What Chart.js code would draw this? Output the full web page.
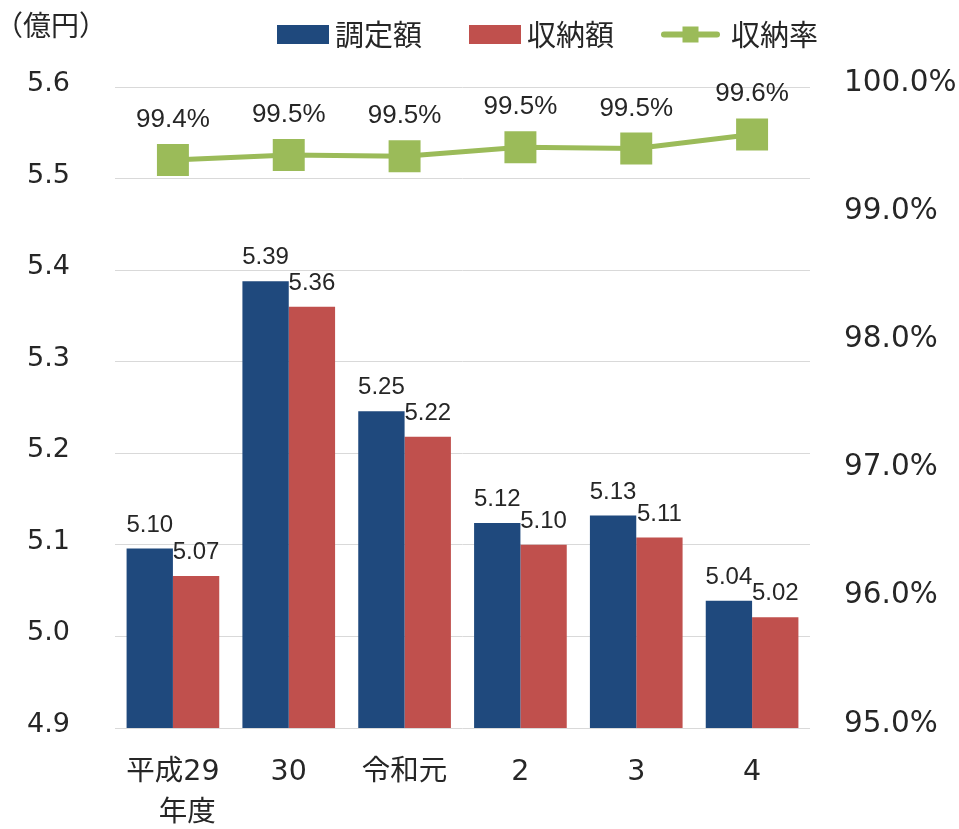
<!DOCTYPE html>
<html lang="ja">
<head>
<meta charset="utf-8">
<title>調定額・収納額・収納率の推移</title>
<script src="https://cdn.jsdelivr.net/npm/chart.js@4.4.1/dist/chart.umd.min.js"></script>
<style>
  html, body { margin: 0; padding: 0; background: #fff; }
</style>
</head>
<body>
<canvas id="chart" width="959" height="829"></canvas>
<script>
// fiscal years (平成29年度 – 令和4年度)
const years = [['平成29', '　年度'], '30', '令和元', '2', '3', '4'];
// 調定額 / 収納額 in 億円
const assessed = [5.096, 5.388, 5.246, 5.124, 5.132, 5.039];
const collected = [5.066, 5.360, 5.218, 5.100, 5.108, 5.021];
// 収納率 in %
const rate = [99.43, 99.47, 99.46, 99.53, 99.52, 99.63];

const BLUE = '#1F497D';
const RED = '#C0504D';
const GREEN = '#9BBB59';
const TEXT = '#262626';
const GRID = '#D9D9D9';
const NUM_FONT = '"DejaVu Sans", "Noto Sans CJK JP", sans-serif';
const CJK_FONT = '"Noto Sans CJK JP", sans-serif';
const LABEL_FONT = '"Liberation Sans", Arial, sans-serif';

// value labels above bars and line points
const valueLabels = {
  id: 'valueLabels',
  afterDatasetsDraw(chart) {
    const ctx = chart.ctx;
    ctx.save();
    ctx.fillStyle = TEXT;
    ctx.textAlign = 'center';
    ctx.textBaseline = 'alphabetic';
    chart.data.datasets.forEach((ds, i) => {
      const isLine = ds.type === 'line';
      ctx.font = (isLine ? '26px ' : '24px ') + LABEL_FONT;
      chart.getDatasetMeta(i).data.forEach((el, j) => {
        const v = ds.data[j];
        const txt = isLine ? v.toFixed(1) + '%' : v.toFixed(2);
        ctx.fillText(txt, el.x, el.y - (isLine ? 33 : 17));
      });
    });
    ctx.restore();
  }
};

// legend row + unit caption at the top
const topLegend = {
  id: 'topLegend',
  afterDraw(chart) {
    const ctx = chart.ctx;
    const cy = 34.5;
    ctx.save();
    ctx.fillStyle = TEXT;
    ctx.font = '28px ' + CJK_FONT;
    ctx.textBaseline = 'middle';
    ctx.textAlign = 'left';
    ctx.fillText('（億円）', -5, 25);

    ctx.font = '29px ' + CJK_FONT;
    let x = 277;
    chart.data.datasets.slice().sort((a, b) => a.legendIndex - b.legendIndex).forEach(ds => {
      if (ds.type === 'line') {
        ctx.strokeStyle = ds.borderColor;
        ctx.lineWidth = 6;
        ctx.lineCap = 'round';
        ctx.beginPath();
        ctx.moveTo(x + 3, cy);
        ctx.lineTo(x + 56, cy);
        ctx.stroke();
        ctx.fillStyle = ds.borderColor;
        ctx.fillRect(x + 21.5, cy - 8, 16, 16);
        x += 70;
      } else {
        ctx.fillStyle = ds.backgroundColor;
        ctx.fillRect(x, cy - 9.5, 52, 19);
        x += 58;
      }
      ctx.fillStyle = TEXT;
      ctx.fillText(ds.label, x, cy);
      x += ctx.measureText(ds.label).width + 47;
    });
    ctx.restore();
  }
};

new Chart(document.getElementById('chart'), {
  data: {
    labels: years,
    datasets: [
      {
        type: 'line',
        label: '収納率',
        legendIndex: 2,
        data: rate,
        yAxisID: 'y1',
        order: 0,
        borderColor: GREEN,
        backgroundColor: GREEN,
        borderWidth: 5,
        pointStyle: 'rect',
        pointRadius: 22.6,
        pointHoverRadius: 22.6,
        pointBorderWidth: 0,
        pointBackgroundColor: GREEN,
        tension: 0
      },
      {
        type: 'bar',
        label: '調定額',
        legendIndex: 0,
        data: assessed,
        yAxisID: 'y',
        order: 1,
        backgroundColor: BLUE,
        categoryPercentage: 0.8,
        barPercentage: 1.0
      },
      {
        type: 'bar',
        label: '収納額',
        legendIndex: 1,
        data: collected,
        yAxisID: 'y',
        order: 2,
        backgroundColor: RED,
        categoryPercentage: 0.8,
        barPercentage: 1.0
      }
    ]
  },
  options: {
    responsive: false,
    animation: false,
    layout: { padding: { top: 87, left: 0, right: 0, bottom: 0 } },
    plugins: {
      legend: { display: false },
      tooltip: { enabled: false }
    },
    scales: {
      x: {
        afterFit(scale) { scale.height = 101; },
        grid: { display: false, drawTicks: false },
        border: { display: false },
        ticks: {
          color: TEXT,
          padding: 24,
          maxRotation: 0,
          autoSkip: false,
          font: { family: NUM_FONT, size: 28.5, lineHeight: 1.45 }
        }
      },
      y: {
        position: 'left',
        min: 4.9,
        max: 5.6,
        afterFit(scale) { scale.width = 115; },
        grid: { color: GRID, lineWidth: 1, drawTicks: false },
        border: { display: false },
        ticks: {
          stepSize: 0.1,
          color: TEXT,
          padding: 45,
          labelOffset: -3,
          font: { family: NUM_FONT, size: 27 },
          callback: v => Number(v).toFixed(1)
        }
      },
      y1: {
        position: 'right',
        min: 95,
        max: 100,
        afterFit(scale) { scale.width = 149; },
        grid: { display: false, drawTicks: false },
        border: { display: false },
        ticks: {
          stepSize: 1,
          color: TEXT,
          padding: 34,
          labelOffset: -4,
          font: { family: NUM_FONT, size: 29.5 },
          callback: v => Number(v).toFixed(1) + '%'
        }
      }
    }
  },
  plugins: [valueLabels, topLegend]
});
</script>
</body>
</html>
